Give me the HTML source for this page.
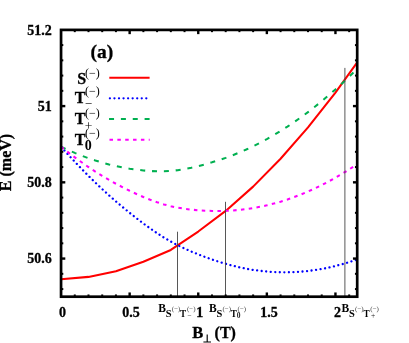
<!DOCTYPE html>
<html><head><meta charset="utf-8"><style>
html,body{margin:0;padding:0;background:#fff;}
svg{display:block;font-family:"Liberation Serif",serif;will-change:transform;opacity:0.999;}
</style></head><body>
<svg width="409" height="343" viewBox="0 0 409 343">
<rect width="409" height="343" fill="#fff"/>
<defs><clipPath id="c"><rect x="61.05" y="29.9" width="296.15" height="266.8"/></clipPath></defs>
<g clip-path="url(#c)" fill="none" stroke-width="2.05" stroke-linejoin="round">
<polyline points="61.05,279.35 88.49,276.88 115.93,271.19 143.37,261.72 170.81,249.95 198.25,231.54 225.69,210.91 253.13,186.63 280.57,158.78 308.01,127.41 335.45,92.60 362.89,54.43 390.33,13.00" stroke="#ff0000"/>
<polyline points="61.05,146.76 67.91,154.35 74.77,161.73 81.63,168.91 88.49,175.87 95.35,182.60 102.21,189.10 109.07,195.36 115.93,201.40 122.79,207.21 129.65,212.81 136.51,218.23 143.37,223.45 150.23,228.44 157.09,233.15 163.95,237.54 170.81,241.56 177.67,245.21 184.53,248.53 191.39,251.56 198.25,254.38 205.11,257.01 211.97,259.46 218.83,261.73 225.69,263.80 232.55,265.66 239.41,267.30 246.27,268.71 253.13,269.89 259.99,270.84 266.85,271.55 273.71,272.03 280.57,272.28 287.43,272.30 294.29,272.09 301.15,271.65 308.01,270.97 314.87,270.07 321.73,268.94 328.59,267.58 335.45,265.99 342.31,264.17 349.17,262.13 356.03,259.86 362.89,257.36 369.75,254.64 376.61,251.69 383.47,248.52 390.33,245.13" stroke="#0000ff" stroke-dasharray="0.01 4.54" stroke-dashoffset="-0.5" stroke-linecap="round" stroke-width="2.3"/>
<polyline points="61.05,146.76 67.91,149.93 74.77,152.90 81.63,155.67 88.49,158.21 95.35,160.53 102.21,162.61 109.07,164.46 115.93,166.08 122.79,167.48 129.65,168.67 136.51,169.67 143.37,170.47 150.23,171.05 157.09,171.35 163.95,171.33 170.81,170.93 177.67,170.17 184.53,169.07 191.39,167.69 198.25,166.09 205.11,164.31 211.97,162.34 218.83,160.20 225.69,157.86 232.55,155.30 239.41,152.53 246.27,149.52 253.13,146.29 259.99,142.82 266.85,139.12 273.71,135.19 280.57,131.03 287.43,126.63 294.29,122.00 301.15,117.15 308.01,112.06 314.87,106.74 321.73,101.20 328.59,95.42 335.45,89.42 342.31,83.19 349.17,76.73 356.03,70.05 362.89,63.13 369.75,56.00 376.61,48.64 383.47,41.05 390.33,33.24" stroke="#00b050" stroke-dasharray="5 6.85"/>
<polyline points="61.05,146.76 67.91,152.14 74.77,157.32 81.63,162.29 88.49,167.04 95.35,171.57 102.21,175.86 109.07,179.91 115.93,183.74 122.79,187.34 129.65,190.74 136.51,193.95 143.37,196.96 150.23,199.74 157.09,202.25 163.95,204.43 170.81,206.25 177.67,207.69 184.53,208.80 191.39,209.63 198.25,210.24 205.11,210.66 211.97,210.90 218.83,210.96 225.69,210.83 232.55,210.48 239.41,209.91 246.27,209.12 253.13,208.09 259.99,206.83 266.85,205.34 273.71,203.61 280.57,201.65 287.43,199.47 294.29,197.05 301.15,194.40 308.01,191.52 314.87,188.41 321.73,185.07 328.59,181.50 335.45,177.71 342.31,173.68 349.17,169.43 356.03,164.95 362.89,160.25 369.75,155.32 376.61,150.17 383.47,144.79 390.33,139.19" stroke="#ff00ff" stroke-dasharray="3.5 4.35"/>
</g>
<g stroke="#444" stroke-width="0.9">
<line x1="177.5" y1="231.7" x2="177.5" y2="296"/>
<line x1="225.5" y1="201.8" x2="225.5" y2="296"/>
<line x1="344.9" y1="67.9" x2="344.9" y2="296"/>
</g>
<g stroke="#000"><line x1="74.77" y1="296.7" x2="74.77" y2="294.45" stroke-width="2.0"/><line x1="74.77" y1="29.9" x2="74.77" y2="32.15" stroke-width="2.0"/><line x1="88.49" y1="296.7" x2="88.49" y2="294.45" stroke-width="2.0"/><line x1="88.49" y1="29.9" x2="88.49" y2="32.15" stroke-width="2.0"/><line x1="102.21" y1="296.7" x2="102.21" y2="294.45" stroke-width="2.0"/><line x1="102.21" y1="29.9" x2="102.21" y2="32.15" stroke-width="2.0"/><line x1="115.93" y1="296.7" x2="115.93" y2="294.45" stroke-width="2.0"/><line x1="115.93" y1="29.9" x2="115.93" y2="32.15" stroke-width="2.0"/><line x1="129.65" y1="296.7" x2="129.65" y2="292.45" stroke-width="2.4"/><line x1="129.65" y1="29.9" x2="129.65" y2="34.15" stroke-width="2.4"/><line x1="143.37" y1="296.7" x2="143.37" y2="294.45" stroke-width="2.0"/><line x1="143.37" y1="29.9" x2="143.37" y2="32.15" stroke-width="2.0"/><line x1="157.09" y1="296.7" x2="157.09" y2="294.45" stroke-width="2.0"/><line x1="157.09" y1="29.9" x2="157.09" y2="32.15" stroke-width="2.0"/><line x1="170.81" y1="296.7" x2="170.81" y2="294.45" stroke-width="2.0"/><line x1="170.81" y1="29.9" x2="170.81" y2="32.15" stroke-width="2.0"/><line x1="184.53" y1="296.7" x2="184.53" y2="294.45" stroke-width="2.0"/><line x1="184.53" y1="29.9" x2="184.53" y2="32.15" stroke-width="2.0"/><line x1="198.25" y1="296.7" x2="198.25" y2="292.45" stroke-width="2.4"/><line x1="198.25" y1="29.9" x2="198.25" y2="34.15" stroke-width="2.4"/><line x1="211.97" y1="296.7" x2="211.97" y2="294.45" stroke-width="2.0"/><line x1="211.97" y1="29.9" x2="211.97" y2="32.15" stroke-width="2.0"/><line x1="225.69" y1="296.7" x2="225.69" y2="294.45" stroke-width="2.0"/><line x1="225.69" y1="29.9" x2="225.69" y2="32.15" stroke-width="2.0"/><line x1="239.41" y1="296.7" x2="239.41" y2="294.45" stroke-width="2.0"/><line x1="239.41" y1="29.9" x2="239.41" y2="32.15" stroke-width="2.0"/><line x1="253.13" y1="296.7" x2="253.13" y2="294.45" stroke-width="2.0"/><line x1="253.13" y1="29.9" x2="253.13" y2="32.15" stroke-width="2.0"/><line x1="266.85" y1="296.7" x2="266.85" y2="292.45" stroke-width="2.4"/><line x1="266.85" y1="29.9" x2="266.85" y2="34.15" stroke-width="2.4"/><line x1="280.57" y1="296.7" x2="280.57" y2="294.45" stroke-width="2.0"/><line x1="280.57" y1="29.9" x2="280.57" y2="32.15" stroke-width="2.0"/><line x1="294.29" y1="296.7" x2="294.29" y2="294.45" stroke-width="2.0"/><line x1="294.29" y1="29.9" x2="294.29" y2="32.15" stroke-width="2.0"/><line x1="308.01" y1="296.7" x2="308.01" y2="294.45" stroke-width="2.0"/><line x1="308.01" y1="29.9" x2="308.01" y2="32.15" stroke-width="2.0"/><line x1="321.73" y1="296.7" x2="321.73" y2="294.45" stroke-width="2.0"/><line x1="321.73" y1="29.9" x2="321.73" y2="32.15" stroke-width="2.0"/><line x1="335.45" y1="296.7" x2="335.45" y2="292.45" stroke-width="2.4"/><line x1="335.45" y1="29.9" x2="335.45" y2="34.15" stroke-width="2.4"/><line x1="349.17" y1="296.7" x2="349.17" y2="294.45" stroke-width="2.0"/><line x1="349.17" y1="29.9" x2="349.17" y2="32.15" stroke-width="2.0"/><line x1="61.05" y1="289.07" x2="63.3" y2="289.07" stroke-width="2.0"/><line x1="357.2" y1="289.07" x2="354.95" y2="289.07" stroke-width="2.0"/><line x1="61.05" y1="273.82" x2="63.3" y2="273.82" stroke-width="2.0"/><line x1="357.2" y1="273.82" x2="354.95" y2="273.82" stroke-width="2.0"/><line x1="61.05" y1="258.57" x2="65.3" y2="258.57" stroke-width="2.4"/><line x1="357.2" y1="258.57" x2="352.95" y2="258.57" stroke-width="2.4"/><line x1="61.05" y1="243.32" x2="63.3" y2="243.32" stroke-width="2.0"/><line x1="357.2" y1="243.32" x2="354.95" y2="243.32" stroke-width="2.0"/><line x1="61.05" y1="228.07" x2="63.3" y2="228.07" stroke-width="2.0"/><line x1="357.2" y1="228.07" x2="354.95" y2="228.07" stroke-width="2.0"/><line x1="61.05" y1="212.83" x2="63.3" y2="212.83" stroke-width="2.0"/><line x1="357.2" y1="212.83" x2="354.95" y2="212.83" stroke-width="2.0"/><line x1="61.05" y1="197.58" x2="63.3" y2="197.58" stroke-width="2.0"/><line x1="357.2" y1="197.58" x2="354.95" y2="197.58" stroke-width="2.0"/><line x1="61.05" y1="182.33" x2="65.3" y2="182.33" stroke-width="2.4"/><line x1="357.2" y1="182.33" x2="352.95" y2="182.33" stroke-width="2.4"/><line x1="61.05" y1="167.08" x2="63.3" y2="167.08" stroke-width="2.0"/><line x1="357.2" y1="167.08" x2="354.95" y2="167.08" stroke-width="2.0"/><line x1="61.05" y1="151.83" x2="63.3" y2="151.83" stroke-width="2.0"/><line x1="357.2" y1="151.83" x2="354.95" y2="151.83" stroke-width="2.0"/><line x1="61.05" y1="136.59" x2="63.3" y2="136.59" stroke-width="2.0"/><line x1="357.2" y1="136.59" x2="354.95" y2="136.59" stroke-width="2.0"/><line x1="61.05" y1="121.34" x2="63.3" y2="121.34" stroke-width="2.0"/><line x1="357.2" y1="121.34" x2="354.95" y2="121.34" stroke-width="2.0"/><line x1="61.05" y1="106.09" x2="65.3" y2="106.09" stroke-width="2.4"/><line x1="357.2" y1="106.09" x2="352.95" y2="106.09" stroke-width="2.4"/><line x1="61.05" y1="90.84" x2="63.3" y2="90.84" stroke-width="2.0"/><line x1="357.2" y1="90.84" x2="354.95" y2="90.84" stroke-width="2.0"/><line x1="61.05" y1="75.59" x2="63.3" y2="75.59" stroke-width="2.0"/><line x1="357.2" y1="75.59" x2="354.95" y2="75.59" stroke-width="2.0"/><line x1="61.05" y1="60.35" x2="63.3" y2="60.35" stroke-width="2.0"/><line x1="357.2" y1="60.35" x2="354.95" y2="60.35" stroke-width="2.0"/><line x1="61.05" y1="45.10" x2="63.3" y2="45.10" stroke-width="2.0"/><line x1="357.2" y1="45.10" x2="354.95" y2="45.10" stroke-width="2.0"/></g>
<rect x="61.05" y="29.9" width="296.15" height="266.8" fill="none" stroke="#000" stroke-width="2.7"/>
<g fill="none" stroke-width="2.05">
<line x1="109.3" y1="77.85" x2="149.6" y2="77.85" stroke="#ff0000" stroke-width="2"/>
<line x1="109.9" y1="98.3" x2="147" y2="98.3" stroke="#0000ff" stroke-dasharray="0.01 4.54" stroke-linecap="round" stroke-width="2.3"/>
<line x1="109.05" y1="119.0" x2="150" y2="119.0" stroke="#00b050" stroke-dasharray="5 6.85"/>
<line x1="109.5" y1="139.8" x2="149.7" y2="139.8" stroke="#ff00ff" stroke-dasharray="3.5 4.35"/>
</g>
<g fill="#000">
<text x="90.6" y="58" font-size="19.5" font-weight="bold" stroke="#000" stroke-width="0.3">(a)</text>
<text x="77.3" y="84.2" font-size="16" font-weight="bold" stroke="#000" stroke-width="0.3">S</text><text x="85" y="76.60000000000001" font-size="12" font-weight="normal">(−)</text>
<text x="74.8" y="103.0" font-size="16" font-weight="bold" stroke="#000" stroke-width="0.3">T</text><text x="85" y="95.4" font-size="12" font-weight="normal">(−)</text><text x="84.8" y="108.4" font-size="13" font-weight="normal">−</text>
<text x="74.8" y="124.1" font-size="16" font-weight="bold" stroke="#000" stroke-width="0.3">T</text><text x="85" y="116.5" font-size="12" font-weight="normal">(−)</text><text x="84.8" y="130.0" font-size="13.5" font-weight="normal">+</text>
<text x="74.8" y="144.6" font-size="16" font-weight="bold" stroke="#000" stroke-width="0.3">T</text><text x="85" y="137.0" font-size="12" font-weight="normal">(−)</text><text x="84.8" y="149.79999999999998" font-size="14" font-weight="bold">0</text>
<g font-size="14" font-weight="bold" text-anchor="end" stroke="#000" stroke-width="0.3">
<text x="51.8" y="34.6">51.2</text>
<text x="51.8" y="110.8">51</text>
<text x="51.8" y="187">50.8</text>
<text x="51.8" y="263.1">50.6</text>
</g>
<g font-size="14" font-weight="bold" text-anchor="middle" stroke="#000" stroke-width="0.3">
<text x="62.5" y="316.7">0</text>
<text x="131" y="316.7">0.5</text>
<text x="199.8" y="316.7">1</text>
<text x="269" y="316.7">1.5</text>
<text x="337.6" y="316.7">2</text>
</g>
<g font-weight="bold"><text x="158.29999999999998" y="311.9" font-size="11.5">B</text><text x="165.79999999999998" y="316.6" font-size="10.5">S</text><text x="171.79999999999998" y="311.3" font-size="7" font-weight="normal" fill="#444">(−)</text><text x="180.1" y="316.6" font-size="10.5" textLength="6.1" lengthAdjust="spacingAndGlyphs">T</text><text x="187.0" y="311.3" font-size="7" font-weight="normal" fill="#444">(−)</text><text x="187.2" y="318.4" font-size="7.5" font-weight="normal" fill="#222">−</text></g>
<g font-weight="bold"><text x="208.9" y="311.9" font-size="11.5">B</text><text x="216.4" y="316.6" font-size="10.5">S</text><text x="222.4" y="311.3" font-size="7" font-weight="normal" fill="#444">(−)</text><text x="230.70000000000002" y="316.6" font-size="10.5" textLength="6.1" lengthAdjust="spacingAndGlyphs">T</text><text x="237.60000000000002" y="311.3" font-size="7" font-weight="normal" fill="#444">(−)</text><text x="236.70000000000002" y="318.4" font-size="7.5" font-weight="bold" fill="#222">0</text></g>
<g font-weight="bold"><text x="341.6" y="311.9" font-size="11.5">B</text><text x="349.1" y="316.6" font-size="10.5">S</text><text x="355.1" y="311.3" font-size="7" font-weight="normal" fill="#444">(−)</text><text x="363.4" y="316.6" font-size="10.5" textLength="6.1" lengthAdjust="spacingAndGlyphs">T</text><text x="370.3" y="311.3" font-size="7" font-weight="normal" fill="#444">(−)</text><text x="371.0" y="318.4" font-size="7.5" font-weight="normal" fill="#222">+</text></g>
<text x="192.2" y="337.9" font-size="16.5" font-weight="bold" stroke="#000" stroke-width="0.3">B</text>
<path d="M207.2 334.6V342M203.4 342H211" stroke="#000" stroke-width="1.15" fill="none"/>
<text x="214.6" y="337.9" font-size="16" font-weight="bold" stroke="#000" stroke-width="0.3">(T)</text>
<text transform="translate(11.2,162.5) rotate(-90)" text-anchor="middle" font-size="16" font-weight="bold" stroke="#000" stroke-width="0.3">E (meV)</text>
</g>
</svg>
</body></html>
